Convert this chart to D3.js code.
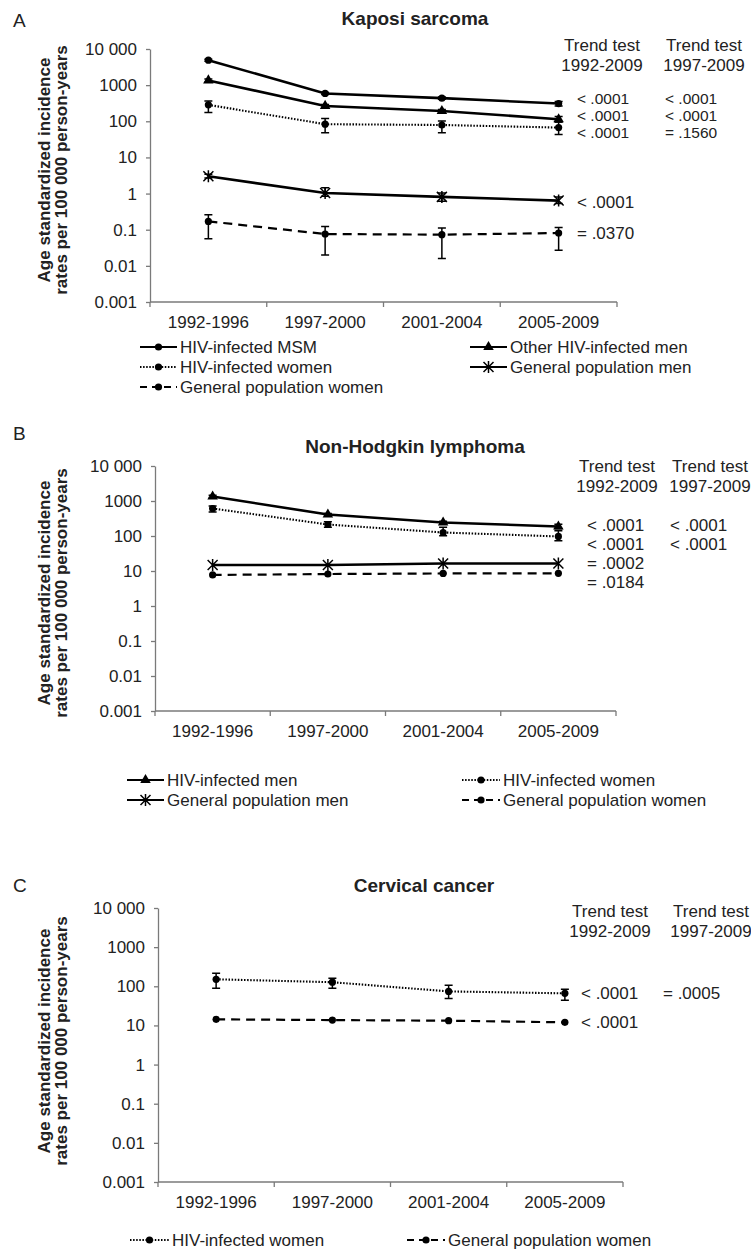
<!DOCTYPE html>
<html><head><meta charset="utf-8">
<script src="https://cdn.jsdelivr.net/npm/d3@7"></script>
<style>body{margin:0;background:#fff}</style>
</head><body><svg id="c" width="751" height="1251"></svg>
<script>
// ---------- DATA ----------
const periods = ["1992-1996", "1997-2000", "2001-2004", "2005-2009"];
const yTicks = [0.001, 0.01, 0.1, 1, 10, 100, 1000, 10000];
const yTickLabels = ["0.001", "0.01", "0.1", "1", "10", "100", "1000", "10 000"];

// Panel A: Kaposi sarcoma
const ksMsm = [4900, 590, 436, 310];
const ksMsmLo = [4600, 550, 405, 265];
const ksMsmHi = [5200, 630, 470, 355];
const ksOtherMen = [1350, 266, 193, 114];
const ksOtherMenLo = [1230, 245, 175, 95];
const ksOtherMenHi = [1480, 290, 212, 135];
const ksHivWomen = [285, 83, 79, 67];
const ksHivWomenLo = [174, 48, 48, 43];
const ksHivWomenHi = [366, 119, 102, 96];
const ksGenMen = [3.0, 1.04, 0.81, 0.64];
const ksGenMenLo = [2.7, 0.84, 0.61, 0.53];
const ksGenMenHi = [3.4, 1.44, 1.04, 0.81];
const ksGenWomen = [0.17, 0.076, 0.073, 0.081];
const ksGenWomenLo = [0.056, 0.020, 0.016, 0.027];
const ksGenWomenHi = [0.26, 0.123, 0.111, 0.116];
const ksP1 = ["< .0001", "< .0001", "< .0001", "< .0001", "= .0370"];
const ksP2 = ["< .0001", "< .0001", "= .1560"];

// Panel B: Non-Hodgkin lymphoma
const nhlHivMen = [1345, 411, 243, 187];
const nhlHivMenLo = [1250, 385, 225, 160];
const nhlHivMenHi = [1450, 440, 262, 215];
const nhlHivWomen = [610, 213, 126, 97];
const nhlHivWomenLo = [485, 177, 102, 73];
const nhlHivWomenHi = [720, 256, 177, 141];
const nhlGenMen = [14.8, 14.8, 16.3, 16.3];
const nhlGenWomen = [7.7, 8.2, 8.5, 8.6];
const nhlP1 = ["< .0001", "< .0001", "= .0002", "= .0184"];
const nhlP2 = ["< .0001", "< .0001"];

// Panel C: Cervical cancer
const ccHivWomen = [151, 127, 74, 66];
const ccHivWomenLo = [89, 89, 49, 44];
const ccHivWomenHi = [215, 160, 106, 84];
const ccGenWomen = [14.3, 13.7, 13.2, 12.0];
const ccP1 = ["< .0001", "< .0001"];
const ccP2 = ["= .0005"];

const trendHead1 = ["Trend test", "1992-2009"];
const trendHead2 = ["Trend test", "1997-2009"];
const yLabel = ["Age standardized incidence", "rates per 100 000 person-years"];

// ---------- STYLE / LAYOUT ----------
const FONT = "'Liberation Sans', Arial, sans-serif";
const TXT = "#222";
const AX = "#7a7a7a";
const lineStyles = {
  solid: { dash: null, w: 2.6 },
  dotted: { dash: "1.5,1.6", w: 2.1 },
  dashed: { dash: "9,6", w: 2.2 }
};
const legDash = { solid: null, dotted: "1.5,1.6", dashed: "7,5" };

const panels = [
  {
    letter: "A", letterY: 27, title: "Kaposi sarcoma", titleX: 415, titleY: 25,
    xr: [150, 617], yr: [302, 49], labelCY: 170,
    series: [
      { name: "HIV-infected MSM", v: ksMsm, lo: ksMsmLo, hi: ksMsmHi, line: "solid", mk: "circle" },
      { name: "Other HIV-infected men", v: ksOtherMen, lo: ksOtherMenLo, hi: ksOtherMenHi, line: "solid", mk: "triangle" },
      { name: "HIV-infected women", v: ksHivWomen, lo: ksHivWomenLo, hi: ksHivWomenHi, line: "dotted", mk: "circle" },
      { name: "General population men", v: ksGenMen, lo: ksGenMenLo, hi: ksGenMenHi, line: "solid", mk: "star" },
      { name: "General population women", v: ksGenWomen, lo: ksGenWomenLo, hi: ksGenWomenHi, line: "dashed", mk: "circle" }
    ],
    head: { x1: 602, x2: 704, y: [45, 65] },
    p1: { x: 577, ys: [99, 116, 133, 202, 233], t: ksP1, size: [15.5, 15.5, 15.5, 17, 17] },
    p2: { x: 665, ys: [99, 116, 133], t: ksP2, size: [15.5, 15.5, 15.5] },
    legend: { cols: [[140, 180], [470, 510]], rows: [347, 367, 387], order: [[0, 0], [1, 0], [0, 1], [1, 1], [0, 2]] }
  },
  {
    letter: "B", letterY: 440, title: "Non-Hodgkin lymphoma", titleX: 415, titleY: 453,
    xr: [155, 616], yr: [711, 466], labelCY: 593,
    series: [
      { name: "HIV-infected men", v: nhlHivMen, lo: nhlHivMenLo, hi: nhlHivMenHi, line: "solid", mk: "triangle" },
      { name: "HIV-infected women", v: nhlHivWomen, lo: nhlHivWomenLo, hi: nhlHivWomenHi, line: "dotted", mk: "circle" },
      { name: "General population men", v: nhlGenMen, line: "solid", mk: "star" },
      { name: "General population women", v: nhlGenWomen, line: "dashed", mk: "circle" }
    ],
    head: { x1: 617, x2: 710, y: [466, 486] },
    p1: { x: 587, ys: [525, 544, 563, 582], t: nhlP1 },
    p2: { x: 670, ys: [525, 544], t: nhlP2 },
    legend: { cols: [[127, 167], [462, 503]], rows: [780, 800], order: [[0, 0], [1, 0], [0, 1], [1, 1]] }
  },
  {
    letter: "C", letterY: 892, title: "Cervical cancer", titleX: 424, titleY: 892,
    xr: [158, 623], yr: [1182, 908], labelCY: 1041,
    series: [
      { name: "HIV-infected women", v: ccHivWomen, lo: ccHivWomenLo, hi: ccHivWomenHi, line: "dotted", mk: "circle" },
      { name: "General population women", v: ccGenWomen, line: "dashed", mk: "circle" }
    ],
    head: { x1: 610, x2: 711, y: [911, 931] },
    p1: { x: 581, ys: [993, 1022], t: ccP1 },
    p2: { x: 663, ys: [993], t: ccP2 },
    legend: { cols: [[130, 172], [407, 448]], rows: [1240], order: [[0, 0], [1, 0]] }
  }
];

// ---------- DRAW ----------
const svg = d3.select("#c");
svg.append("rect").attr("width", 751).attr("height", 1251).attr("fill", "#fff");

function drawMarker(g, type, cx, cy) {
  if (type === "circle") {
    g.append("circle").attr("cx", cx).attr("cy", cy).attr("r", 3.6).attr("fill", "#000");
  } else if (type === "triangle") {
    g.append("path").attr("d", d3.symbol(d3.symbolTriangle, 48)())
      .attr("transform", `translate(${cx},${cy})`).attr("fill", "#000");
  } else if (type === "star") {
    const s = 5;
    const p = `M${cx - s},${cy - s}L${cx + s},${cy + s}M${cx - s},${cy + s}L${cx + s},${cy - s}M${cx},${cy - s - 1}L${cx},${cy + s + 1}`;
    g.append("path").attr("d", p).attr("stroke", "#000").attr("stroke-width", 1.5).attr("fill", "none");
  }
}

function txt(g, x, y, s, opts = {}) {
  return g.append("text").attr("x", x).attr("y", y).text(s)
    .attr("font-family", FONT).attr("font-size", opts.size || 17)
    .attr("font-weight", opts.bold ? "bold" : "normal")
    .attr("text-anchor", opts.anchor || "start")
    .attr("dy", opts.dy || null)
    .attr("fill", TXT);
}

panels.forEach(p => {
  const g = svg.append("g");
  const x = d3.scaleBand().domain(periods).range(p.xr).padding(0);
  const y = d3.scaleLog().domain([0.001, 10000]).range(p.yr);
  const cx = d => x(d) + x.bandwidth() / 2;

  // letter + title
  txt(g, 13, p.letterY, p.letter, { size: 19 });
  txt(g, p.titleX, p.titleY, p.title, { size: 19, bold: true, anchor: "middle" });

  // y axis
  const ya = g.append("g").attr("transform", `translate(${p.xr[0]},0)`)
    .call(d3.axisLeft(y).tickValues(yTicks).tickFormat((d, i) => yTickLabels[i]).tickSize(4).tickPadding(9).tickSizeOuter(0));
  ya.select(".domain").attr("stroke", AX).attr("stroke-width", 1.3);
  ya.selectAll(".tick line").attr("stroke", AX).attr("stroke-width", 1.3);
  ya.selectAll(".tick text").attr("font-family", FONT).attr("font-size", 17).attr("fill", TXT);

  // x axis (line with ticks at band boundaries)
  const y0 = y(0.001);
  g.append("line").attr("x1", p.xr[0]).attr("x2", p.xr[1]).attr("y1", y0).attr("y2", y0)
    .attr("stroke", AX).attr("stroke-width", 1.3);
  const bounds = periods.map(d => x(d)).concat([x(periods[periods.length - 1]) + x.bandwidth()]);
  bounds.forEach(b => {
    g.append("line").attr("x1", b).attr("x2", b).attr("y1", y0).attr("y2", y0 + 5)
      .attr("stroke", AX).attr("stroke-width", 1.3);
  });
  periods.forEach(d => txt(g, cx(d), y0 + 20, d, { anchor: "middle", dy: "0.35em" }));

  // y label
  [50, 67].forEach((lx, i) => {
    g.append("text").attr("transform", `translate(${lx},${p.labelCY}) rotate(-90)`)
      .attr("text-anchor", "middle").attr("font-family", FONT).attr("font-size", 17)
      .attr("font-weight", "bold").attr("fill", TXT).text(yLabel[i]);
  });

  // series
  p.series.forEach(s => {
    const st = lineStyles[s.line];
    const line = d3.line().x((v, i) => cx(periods[i])).y(v => y(v));
    g.append("path").attr("d", line(s.v)).attr("fill", "none").attr("stroke", "#000")
      .attr("stroke-width", st.w).attr("stroke-dasharray", st.dash);
    if (s.lo) {
      s.v.forEach((v, i) => {
        const xx = cx(periods[i]);
        const yl = y(s.lo[i]), yh = y(s.hi[i]);
        g.append("path").attr("d", `M${xx},${yl}L${xx},${yh}M${xx - 4},${yl}L${xx + 4},${yl}M${xx - 4},${yh}L${xx + 4},${yh}`)
          .attr("stroke", "#000").attr("stroke-width", 1.5).attr("fill", "none");
      });
    }
    s.v.forEach((v, i) => drawMarker(g, s.mk, cx(periods[i]), y(v)));
  });

  // trend test headers
  [[p.head.x1, trendHead1], [p.head.x2, trendHead2]].forEach(([hx, lines]) => {
    lines.forEach((t, i) => txt(g, hx, p.head.y[i], t, { anchor: "middle", dy: "0.35em" }));
  });
  [p.p1, p.p2].forEach(col => {
    col.t.forEach((t, i) => txt(g, col.x, col.ys[i], t, { dy: "0.35em", size: col.size ? col.size[i] : 17 }));
  });

  // legend
  p.series.forEach((s, k) => {
    const [ci, ri] = p.legend.order[k];
    const [lx, tx] = p.legend.cols[ci];
    const ly = p.legend.rows[ri];
    const lw = tx - lx - 3;
    g.append("line").attr("x1", lx).attr("x2", lx + lw).attr("y1", ly).attr("y2", ly)
      .attr("stroke", "#000").attr("stroke-width", s.line === "dotted" ? 2 : 2.2)
      .attr("stroke-dasharray", legDash[s.line]);
    drawMarker(g, s.mk, lx + lw / 2, ly);
    txt(g, tx, ly, s.name, { dy: "0.35em" });
  });
});
</script>
</body></html>
